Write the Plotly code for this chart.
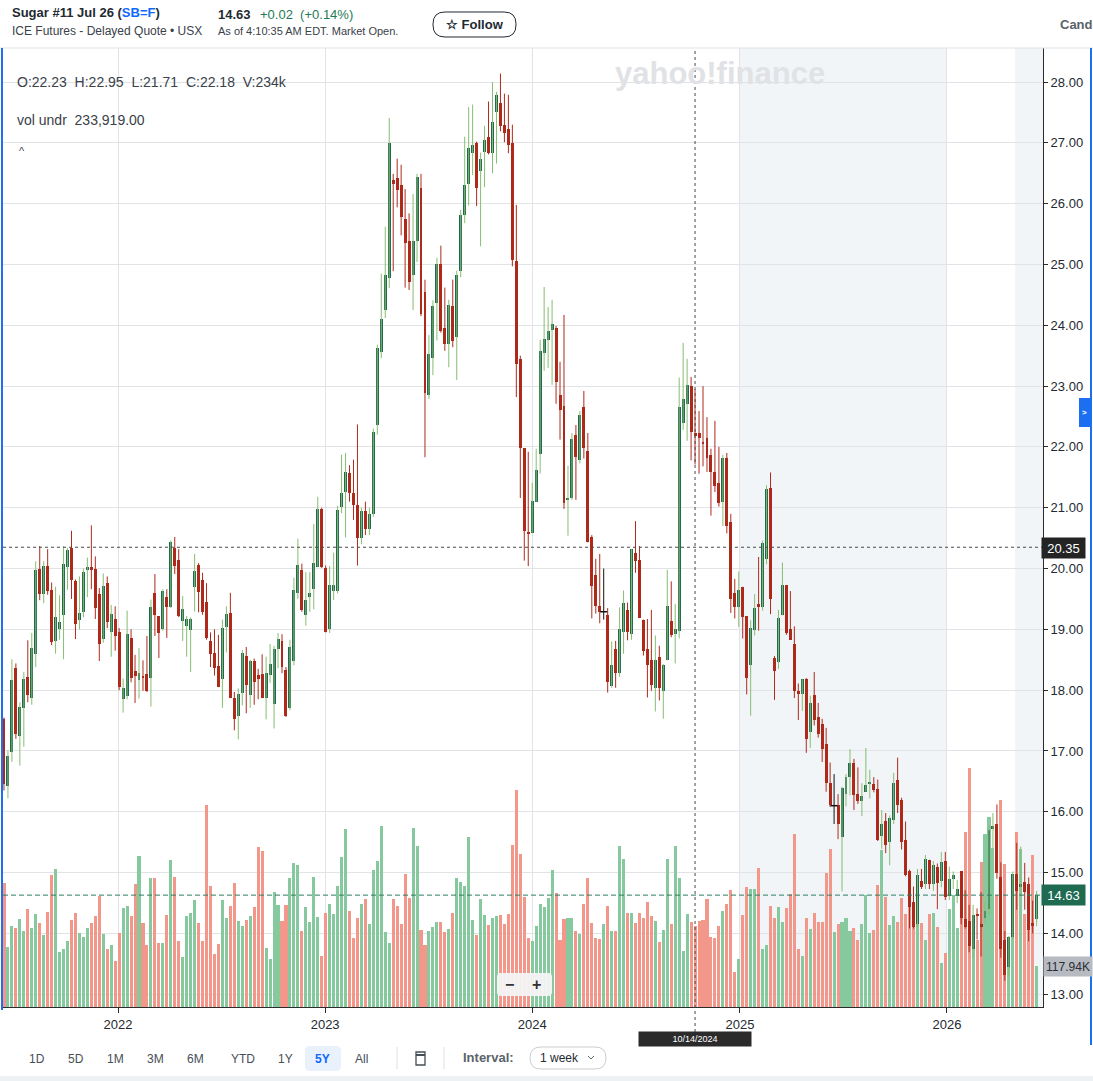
import plotly.graph_objects as go
import pandas as pd

# ---------------- data (weekly bars) ----------------
FIRST_WEEK = "2021-06-14"
N_WEEKS = 261
dates = pd.date_range(FIRST_WEEK, periods=N_WEEKS, freq="7D")

opens = [
    17.52,16.43,16.99,18.36,17.25,17.71,18.22,17.87,18.60,20.00,
    19.58,20.05,19.64,18.81,19.01,19.24,20.03,20.34,19.79,19.16,
    19.29,19.99,20.02,20.00,19.58,18.84,19.77,18.96,19.17,18.95,
    17.85,17.90,18.85,18.31,18.17,18.24,18.26,18.20,19.59,19.22,
    19.01,19.53,19.37,20.34,20.14,19.14,19.06,18.99,19.69,20.06,
    19.81,19.45,18.81,18.61,18.40,18.19,19.04,19.27,17.87,17.58,
    17.95,18.56,17.92,18.48,18.25,18.26,17.87,18.25,17.78,18.67,
    18.81,18.34,17.70,18.48,19.59,19.98,19.24,19.53,19.67,20.03,
    20.98,20.01,19.01,19.63,19.63,21.01,21.26,21.57,21.25,21.05,
    20.50,20.95,20.65,20.90,22.36,23.56,24.25,24.77,26.39,26.43,
    26.31,25.75,25.39,24.83,25.38,26.26,24.54,22.86,23.47,24.36,
    25.01,23.96,23.69,24.31,23.80,24.90,25.81,26.33,26.83,27.00,
    26.53,26.85,27.10,26.84,27.50,27.66,27.30,27.23,26.99,25.06,
    23.45,21.98,20.60,20.59,21.10,21.89,23.55,23.76,23.93,23.96,
    22.85,22.67,21.12,21.16,22.20,21.78,22.66,21.93,20.52,19.89,
    19.38,19.29,19.24,18.07,18.68,18.29,18.95,19.32,18.92,20.26,
    20.14,19.16,18.67,18.50,18.04,18.54,17.99,18.49,19.13,18.92,
    18.98,22.40,22.70,23.00,22.23,22.23,22.07,22.14,21.87,21.58,
    21.41,21.09,21.82,20.77,19.60,19.36,19.70,19.22,18.42,18.99,
    19.41,19.36,20.15,21.33,18.53,18.47,19.23,19.73,19.00,18.76,
    17.98,17.93,18.18,17.32,17.92,17.56,17.44,17.11,16.48,16.10,
    16.11,15.59,16.29,16.57,16.81,16.29,16.17,16.33,16.47,16.45,
    16.38,15.60,15.85,15.50,15.86,16.53,16.20,15.54,15.02,14.51,
    14.16,14.86,14.81,15.21,14.81,15.10,14.87,15.19,14.61,14.89,
    14.61,15.02,14.23,14.20,13.75,14.32,14.16,14.26,14.40,15.73,
    15.80,14.93,13.89,13.44,13.94,14.97,14.77,14.85,14.82,14.17,14.23,
]
highs = [
    17.55,17.01,18.51,18.44,17.80,18.30,18.82,18.94,20.12,20.37,
    20.12,20.32,19.77,19.70,19.56,20.37,20.34,20.62,19.82,19.87,
    20.00,20.18,20.71,20.20,19.68,19.92,19.87,19.40,19.38,19.02,
    18.19,19.31,19.00,18.58,18.69,18.49,18.89,19.49,19.91,19.22,
    19.66,19.66,20.46,20.52,20.32,19.55,19.22,19.20,20.24,20.09,
    19.93,19.76,18.95,19.00,18.91,19.16,19.38,19.60,17.97,18.03,
    18.66,18.71,18.50,18.52,18.35,18.59,18.55,18.76,18.73,18.94,
    18.92,18.38,18.83,19.85,20.49,20.08,19.94,19.94,20.73,21.18,
    21.00,20.05,20.04,20.26,21.03,21.87,21.90,21.70,21.79,22.37,
    21.00,21.10,21.00,22.30,23.68,24.85,25.62,27.41,26.49,26.74,
    26.64,26.24,25.84,26.16,26.49,26.49,24.75,23.84,24.41,25.11,
    25.31,24.62,24.42,24.75,24.90,25.90,27.10,27.59,27.63,27.02,
    26.84,27.28,27.68,28.00,27.84,28.14,27.81,27.79,27.30,25.98,
    23.50,21.98,21.92,21.41,21.97,23.76,24.63,24.30,24.42,23.99,
    23.40,24.17,21.69,22.23,22.36,22.59,22.92,22.23,20.55,20.16,
    20.24,20.00,19.35,18.80,18.81,19.36,19.64,19.44,20.32,20.78,
    20.37,19.16,19.17,19.32,18.90,18.73,18.43,19.98,19.79,19.42,
    23.14,23.71,23.45,23.15,22.95,22.59,23.00,22.49,21.97,22.43,
    22.00,21.87,21.90,20.90,19.83,19.95,19.70,19.22,19.15,19.58,
    20.19,20.46,21.37,21.58,18.56,19.32,20.10,19.73,19.63,19.05,
    18.11,18.18,18.20,17.91,18.30,17.79,17.53,17.38,16.81,16.62,
    16.29,16.41,16.62,17.03,16.87,16.73,16.47,17.05,16.69,16.57,
    16.53,16.03,15.98,15.94,16.64,16.89,16.23,15.84,15.05,14.77,
    15.06,15.06,15.29,15.21,15.19,15.15,15.34,15.34,15.10,15.02,
    14.88,15.02,14.71,14.47,14.47,14.41,14.68,14.53,15.78,15.98,
    16.12,15.17,14.04,13.96,15.02,15.49,15.43,15.16,14.92,14.54,14.70,
]
lows = [
    16.35,16.22,16.82,17.20,16.76,17.07,17.80,17.76,18.38,19.48,
    19.43,19.57,18.74,18.60,18.83,18.51,19.65,19.50,18.84,19.00,
    19.20,19.53,19.66,19.17,18.48,18.78,19.02,18.55,18.65,18.00,
    17.63,17.85,18.13,17.79,17.86,17.99,17.97,17.73,18.89,18.53,
    18.98,18.86,19.35,19.91,19.20,18.81,18.55,18.30,19.29,19.28,
    19.24,18.83,18.38,18.24,18.05,17.71,18.62,17.87,17.34,17.19,
    17.75,17.62,17.71,17.76,17.85,17.87,17.52,18.12,17.37,18.36,
    18.28,17.56,17.67,18.41,19.50,19.29,19.06,19.29,19.33,20.03,
    20.01,18.95,18.94,19.48,19.59,20.91,20.51,21.10,20.80,20.05,
    20.40,20.55,20.55,20.85,22.20,23.46,24.12,24.61,24.89,25.94,
    25.48,24.62,24.58,24.25,25.04,24.15,21.83,22.79,23.18,23.75,
    23.88,23.58,23.31,23.64,23.10,24.79,25.68,25.97,26.47,25.96,
    25.30,26.27,26.81,26.50,26.66,27.19,27.01,26.83,24.97,22.82,
    21.16,20.13,20.04,20.59,21.10,21.56,23.25,23.30,23.02,22.71,
    22.12,20.98,20.54,21.13,21.13,21.73,21.81,20.43,19.18,19.26,
    19.10,19.16,17.96,18.04,18.04,18.22,18.60,18.82,18.83,19.93,
    19.19,18.57,17.88,17.99,17.65,17.83,17.53,18.49,18.87,18.44,
    18.85,22.28,22.10,21.78,21.71,21.56,21.68,21.59,20.87,21.26,
    21.02,20.70,20.58,19.27,19.18,19.04,18.85,17.93,17.58,18.90,
    18.98,19.31,20.07,19.25,17.84,18.35,19.23,18.91,18.83,17.87,
    17.51,17.66,16.97,17.05,17.42,17.22,16.82,16.33,16.08,15.80,
    15.55,14.69,16.09,16.27,16.03,16.13,15.93,16.33,16.22,16.32,
    15.52,15.39,15.32,15.12,15.80,15.98,15.38,14.94,14.08,14.08,
    14.10,14.73,14.73,14.73,14.70,14.40,14.76,14.55,14.55,14.73,
    14.50,14.15,14.08,13.69,13.60,13.90,13.62,14.16,14.30,15.40,
    14.90,13.60,13.22,13.30,13.90,14.39,14.60,14.39,13.87,14.00,14.12,
]
closes = [
    16.45,16.92,18.16,17.28,17.72,18.18,17.92,18.69,19.97,19.58,
    20.05,19.63,18.79,19.20,19.12,20.07,20.30,19.81,19.09,19.27,
    19.95,20.02,19.99,19.35,18.76,19.72,19.12,19.25,18.89,18.06,
    18.03,18.92,18.20,18.24,18.28,18.20,17.98,19.36,19.24,18.94,
    19.63,19.37,20.43,20.05,19.22,19.34,19.17,19.17,19.96,19.61,
    19.29,18.85,18.60,18.37,18.05,19.02,19.25,17.87,17.53,17.93,
    18.61,18.09,18.48,18.14,18.19,17.87,18.28,18.43,18.67,18.84,
    18.38,17.57,18.71,19.65,20.06,19.32,19.48,19.60,20.09,20.98,
    20.03,18.95,19.73,19.73,20.96,21.24,21.59,21.25,21.05,20.50,
    20.95,20.65,20.90,22.25,23.62,24.11,24.83,27.00,26.32,26.22,
    25.78,25.36,24.72,25.39,26.44,24.18,22.88,23.53,24.32,25.01,
    23.91,23.69,24.34,23.75,24.83,25.82,26.31,26.92,26.97,26.26,
    26.74,27.04,26.84,27.35,27.78,27.28,27.17,26.97,25.08,23.36,
    21.99,20.61,20.58,21.11,21.62,23.58,23.78,23.90,24.02,23.07,
    22.61,21.08,21.16,22.13,21.84,22.53,21.99,20.44,19.72,19.39,
    19.28,19.29,18.13,18.42,18.29,19.01,19.44,18.96,20.32,20.13,
    19.19,18.65,18.42,18.09,18.49,18.03,18.41,19.39,18.90,19.01,
    22.66,22.79,23.02,22.24,22.18,22.14,22.06,21.81,21.58,21.35,
    21.07,21.82,20.70,19.50,19.36,19.65,19.21,18.20,19.02,19.35,
    19.36,20.42,21.31,19.50,18.31,19.19,19.73,18.94,18.83,17.99,
    17.93,18.18,17.19,17.79,17.51,17.28,17.04,16.48,16.11,16.10,
    15.80,16.39,16.57,16.81,16.27,16.17,16.26,16.44,16.49,16.36,
    15.54,15.80,15.46,15.89,16.48,16.11,15.50,14.96,14.43,14.10,
    14.96,14.77,15.22,14.81,15.12,14.83,15.18,14.60,14.90,14.96,
    14.73,14.26,14.10,13.79,14.30,14.29,14.10,14.37,15.70,15.76,
    15.00,13.75,13.31,13.94,14.97,14.69,14.82,14.68,14.06,14.13,14.63,
]
volumes_k = [
    358,173,234,228,254,219,283,228,269,243,
    208,274,381,399,159,168,191,251,272,214,
    202,228,243,263,321,211,168,179,133,214,
    286,292,263,355,436,243,179,373,373,185,
    185,266,425,376,191,144,263,272,309,243,
    191,584,350,153,182,309,257,292,358,248,
    234,251,263,289,462,451,170,139,332,295,
    248,295,373,416,410,220,289,246,376,260,
    147,272,298,269,350,433,514,277,199,257,
    298,312,240,396,422,523,217,185,312,292,
    240,384,315,517,465,222,179,220,231,246,
    246,217,225,272,373,361,350,491,251,208,
    312,266,237,257,263,266,240,269,468,627,
    441,318,199,190,234,299,288,316,396,329,
    193,253,256,256,219,211,298,373,244,199,
    196,239,292,221,219,464,428,272,273,243,
    272,256,303,263,250,188,223,428,239,464,
    374,162,268,245,234,250,251,312,202,199,
    235,278,297,338,102,138,267,346,341,340,
    403,168,178,291,256,289,247,287,328,499,
    169,146,256,225,273,245,245,386,456,216,
    240,246,258,221,229,193,240,325,214,224,
    354,453,318,236,263,245,314,269,341,284,
    250,242,195,269,273,230,126,156,282,323,
    228,384,506,690,249,193,419,499,549,461,
    323,598,413,198,291,506,458,269,356,438,118,
]

PRICE_TICKS = [13, 14, 15, 16, 17, 18, 19, 20, 21, 22, 23, 24, 25, 26, 27, 28]
PRICE_LABELS = [f"{v:.2f}" for v in PRICE_TICKS]
YEAR_TICKS = ["2022-01-01", "2023-01-01", "2024-01-01", "2025-01-01", "2026-01-01"]
YEAR_LABELS = ["2022", "2023", "2024", "2025", "2026"]

CROSS_DATE = "2024-10-14"
CROSS_PRICE = 20.35
LAST_PRICE = 14.63

# ---------------- styling ----------------
FONT = "Liberation Sans, Arial, sans-serif"
UP_BODY = "#22694f"
UP_WICK = "#86bd72"
DN = "#ae2a1b"
VOL_UP = "#86c99f"
VOL_DN = "#f4978b"
GRID = "#e1e3e6"
TXT = "#232a31"
DAY_MS = 86400000
BODY_W = 5.2 * DAY_MS
VOL_W = 5.4 * DAY_MS

W, H = 1093, 1081
L, R, T, B = 3, 1043, 48, 1007
PW, PH = R - L, B - T


def P(x):
    return (x - L) / PW


def Q(y):
    return (B - y) / PH


up = [i for i in range(N_WEEKS) if closes[i] > opens[i]]
dn = [i for i in range(N_WEEKS) if closes[i] < opens[i]]
flat = [i for i in range(N_WEEKS) if closes[i] == opens[i]]


def wicks(idx):
    xs, ys = [], []
    for i in idx:
        xs += [dates[i], dates[i], None]
        ys += [lows[i], highs[i], None]
    return xs, ys


fig = go.Figure()

# volume (base axis y)
vcol = [VOL_UP if closes[i] >= opens[i] else VOL_DN for i in range(N_WEEKS)]
fig.add_trace(go.Bar(x=dates, y=volumes_k, width=VOL_W, marker=dict(color=vcol, line=dict(width=0)),
                     yaxis="y", hoverinfo="skip"))

# wicks
for idx, col in ((up, UP_WICK), (dn, DN), (flat, "#111111")):
    xs, ys = wicks(idx)
    fig.add_trace(go.Scatter(x=xs, y=ys, mode="lines", line=dict(color=col, width=1),
                             yaxis="y2", hoverinfo="skip"))

# bodies
fig.add_trace(go.Bar(x=[dates[i] for i in up], base=[opens[i] for i in up],
                     y=[closes[i] - opens[i] for i in up], width=BODY_W,
                     marker=dict(color=UP_BODY, line=dict(width=0)), yaxis="y2", hoverinfo="skip"))
fig.add_trace(go.Bar(x=[dates[i] for i in dn], base=[closes[i] for i in dn],
                     y=[opens[i] - closes[i] for i in dn], width=BODY_W,
                     marker=dict(color=DN, line=dict(width=0)), yaxis="y2", hoverinfo="skip"))
fig.add_trace(go.Scatter(x=[dates[i] for i in flat], y=[closes[i] for i in flat], mode="markers",
                         marker=dict(symbol="line-ew", size=5, line=dict(width=1.5, color="#111111")),
                         yaxis="y2", hoverinfo="skip"))

X0 = pd.Timestamp("2021-06-12 07:00")
X1 = pd.Timestamp("2026-06-19 05:00")
SHADE2_START = "2026-05-01"

shapes = [
    # shaded periods
    dict(type="rect", xref="x", yref="paper", x0="2025-01-01", x1="2026-01-01", y0=0, y1=1,
         fillcolor="#f2f5f8", line=dict(width=0), layer="below"),
    dict(type="rect", xref="x", yref="paper", x0=SHADE2_START, x1=X1, y0=0, y1=1,
         fillcolor="#f2f5f8", line=dict(width=0), layer="below"),
    # crosshair
    dict(type="line", xref="x", yref="paper", x0=CROSS_DATE, x1=CROSS_DATE, y0=Q(1032), y1=1,
         line=dict(color="#4a4a4a", width=1, dash="3px,3px")),
    dict(type="line", xref="paper", yref="y2", x0=0, x1=1, y0=CROSS_PRICE, y1=CROSS_PRICE,
         line=dict(color="#4a4a4a", width=1, dash="3px,3px")),
    # last price line
    dict(type="line", xref="paper", yref="y2", x0=0, x1=1, y0=LAST_PRICE, y1=LAST_PRICE,
         line=dict(color="#2e7d60", width=1, dash="5px,3px")),
    # borders
    dict(type="line", xref="paper", yref="paper", x0=P(0), x1=P(1093), y0=Q(48), y1=Q(48),
         line=dict(color="#dfe3e6", width=1)),
    dict(type="line", xref="paper", yref="paper", x0=P(2), x1=P(2), y0=Q(48), y1=Q(1010),
         line=dict(color="#1d6ff2", width=2)),
    dict(type="line", xref="paper", yref="paper", x0=P(1091), x1=P(1091), y0=Q(48), y1=Q(1045),
         line=dict(color="#1d6ff2", width=2)),
    dict(type="rect", xref="paper", yref="paper", x0=P(1079), x1=P(1090), y0=Q(427), y1=Q(398),
         fillcolor="#1d6ff2", line=dict(width=0)),
    # bottom strip
    dict(type="rect", xref="paper", yref="paper", x0=P(0), x1=P(1093), y0=Q(1081), y1=Q(1076),
         fillcolor="#eef1f4", line=dict(width=0)),
    # separators
    dict(type="line", xref="paper", yref="paper", x0=P(397), x1=P(397), y0=Q(1047), y1=Q(1069),
         line=dict(color="#dcdfe3", width=1)),
    dict(type="line", xref="paper", yref="paper", x0=P(444), x1=P(444), y0=Q(1047), y1=Q(1069),
         line=dict(color="#dcdfe3", width=1)),
    # calendar icon
    dict(type="rect", xref="paper", yref="paper", x0=P(416), x1=P(425), y0=Q(1065), y1=Q(1052),
         line=dict(color="#464e56", width=1.3), fillcolor="rgba(0,0,0,0)"),
    dict(type="line", xref="paper", yref="paper", x0=P(416), x1=P(425), y0=Q(1055), y1=Q(1055),
         line=dict(color="#464e56", width=2)),
]


def rrect(x0, y0, x1, y1, r):
    pts = [("M", x0 + r, y0), ("L", x1 - r, y0), ("Q", x1, y0, x1, y0 + r), ("L", x1, y1 - r),
           ("Q", x1, y1, x1 - r, y1), ("L", x0 + r, y1), ("Q", x0, y1, x0, y1 - r),
           ("L", x0, y0 + r), ("Q", x0, y0, x0 + r, y0)]
    s = ""
    for p in pts:
        cmd = p[0]
        vals = p[1:]
        coords = []
        for k in range(0, len(vals), 2):
            coords.append(f"{P(vals[k]):.5f},{Q(vals[k + 1]):.5f}")
        s += cmd + " " + " ".join(coords) + " "
    return s + "Z"


shapes += [
    dict(type="path", xref="paper", yref="paper", path=rrect(433, 12, 516, 37, 12),
         line=dict(color="#232a31", width=1), fillcolor="white"),
    dict(type="path", xref="paper", yref="paper", path=rrect(305, 1046, 341, 1071, 5),
         line=dict(width=0), fillcolor="#e9f1fd"),
    dict(type="path", xref="paper", yref="paper", path=rrect(530, 1047, 606, 1069, 11),
         line=dict(color="#c9cdd2", width=1), fillcolor="white"),
    dict(type="path", xref="paper", yref="paper",
         path=f"M {P(588):.5f},{Q(1056):.5f} L {P(591):.5f},{Q(1059):.5f} L {P(594):.5f},{Q(1056):.5f}",
         line=dict(color="#5b636a", width=1)),
    dict(type="path", xref="paper", yref="paper", path=rrect(497, 973, 552, 996, 4),
         line=dict(width=0), fillcolor="rgba(244,244,245,0.95)"),
]


def ann(text, x, y, size=13, color=TXT, xanchor="left", bold=False, **kw):
    if bold:
        text = f"<b>{text}</b>"
    d = dict(text=text, x=P(x), y=Q(y), xref="paper", yref="paper", xanchor=xanchor,
             yanchor="middle", showarrow=False, font=dict(family=FONT, size=size, color=color))
    d.update(kw)
    return d


NB = "\u00a0"
annotations = [
    ann("Sugar #11 Jul 26 (<span style='color:#0f69ff'>SB=F</span>)", 10, 13, 13, bold=True),
    ann("ICE Futures - Delayed Quote • USX", 10, 31, 12, "#3a4149"),
    ann("14.63", 216, 14, 13, bold=True),
    ann(f"+0.02{NB}{NB}(+0.14%)", 258, 14, 13, "#1f7a55"),
    ann("As of 4:10:35 AM EDT. Market Open.", 216, 31, 11, "#3a4149"),
    ann("☆ Follow", 474.5, 24.5, 13, xanchor="center", bold=True),
    ann("Cand", 1058, 24, 13, "#5b636a", bold=True),
    ann("yahoo!finance", 720, 74, 31, "#e0e2e5", xanchor="center", bold=True),
    ann(f"O:22.23{NB}{NB}H:22.95{NB}{NB}L:21.71{NB}{NB}C:22.18{NB}{NB}V:234k", 15, 82, 14, "#3a4149"),
    ann(f"vol undr{NB}{NB}233,919.00", 15, 120, 14, "#3a4149"),
    ann("^", 22, 151, 11, "#3a4149", xanchor="center"),
    ann(">", 1084.5, 412, 8, "white", xanchor="center", bold=True),
    ann("−", 509, 984, 16, "#333", xanchor="center", bold=True),
    ann("+", 536, 984, 16, "#333", xanchor="center", bold=True),
    ann("20.35", 1063.5, 548, 13, "white", xanchor="center", bgcolor="#242424",
        width=39, height=16, borderpad=2),
    ann("14.63", 1063.5, 895, 13, "white", xanchor="center", bgcolor="#1e6b52",
        width=39, height=16, borderpad=2),
    ann("117.94K", 1043, 966, 12, "#2a2f35", xanchor="left", bgcolor="#b7bac1",
        width=44, height=15, borderpad=2),
    ann("10/14/2024", 695, 1039, 9, "white", xanchor="center", bgcolor="#2b2b2b",
        width=108, height=10, borderpad=2),
]
for lab, x in (("1D", 37), ("5D", 76), ("1M", 115), ("3M", 155), ("6M", 195), ("YTD", 243),
               ("1Y", 285), ("All", 361)):
    annotations.append(ann(lab, x, 1058.5, 12, "#464e56", xanchor="center"))
annotations.append(ann("5Y", 322.5, 1058.5, 12, "#0f69ff", xanchor="center", bold=True))
annotations.append(ann("Interval:", 461, 1057.5, 13, "#5b636a", bold=True))
annotations.append(ann("1 week", 559, 1058, 12, "#232a31", xanchor="center"))

fig.update_layout(
    width=W, height=H,
    margin=dict(l=L, r=W - R, t=T, b=H - B, pad=0),
    paper_bgcolor="white", plot_bgcolor="rgba(0,0,0,0)",
    showlegend=False, barmode="overlay", bargap=0,
    font=dict(family=FONT, color=TXT),
    hovermode=False,
    xaxis=dict(type="date", range=[X0, X1], tickvals=YEAR_TICKS, ticktext=YEAR_LABELS,
               showgrid=True, gridcolor=GRID, gridwidth=1, zeroline=False,
               showline=True, linecolor="#2b2b2b", linewidth=1,
               ticks="outside", ticklen=5, tickcolor="#2b2b2b",
               tickfont=dict(family=FONT, size=13, color=TXT), fixedrange=True),
    yaxis=dict(range=[0, 2772], visible=False, showgrid=False, zeroline=False, fixedrange=True),
    yaxis2=dict(overlaying="y", side="right", range=[12.79, 28.56],
                tickvals=PRICE_TICKS, ticktext=PRICE_LABELS,
                showgrid=True, gridcolor=GRID, gridwidth=1, zeroline=False,
                showline=True, linecolor="#2b2b2b", linewidth=1,
                ticks="outside", ticklen=4, tickcolor="#2b2b2b",
                tickfont=dict(family=FONT, size=13, color=TXT), fixedrange=True),
    shapes=shapes,
    annotations=annotations,
)

fig.write_html("out.html")
